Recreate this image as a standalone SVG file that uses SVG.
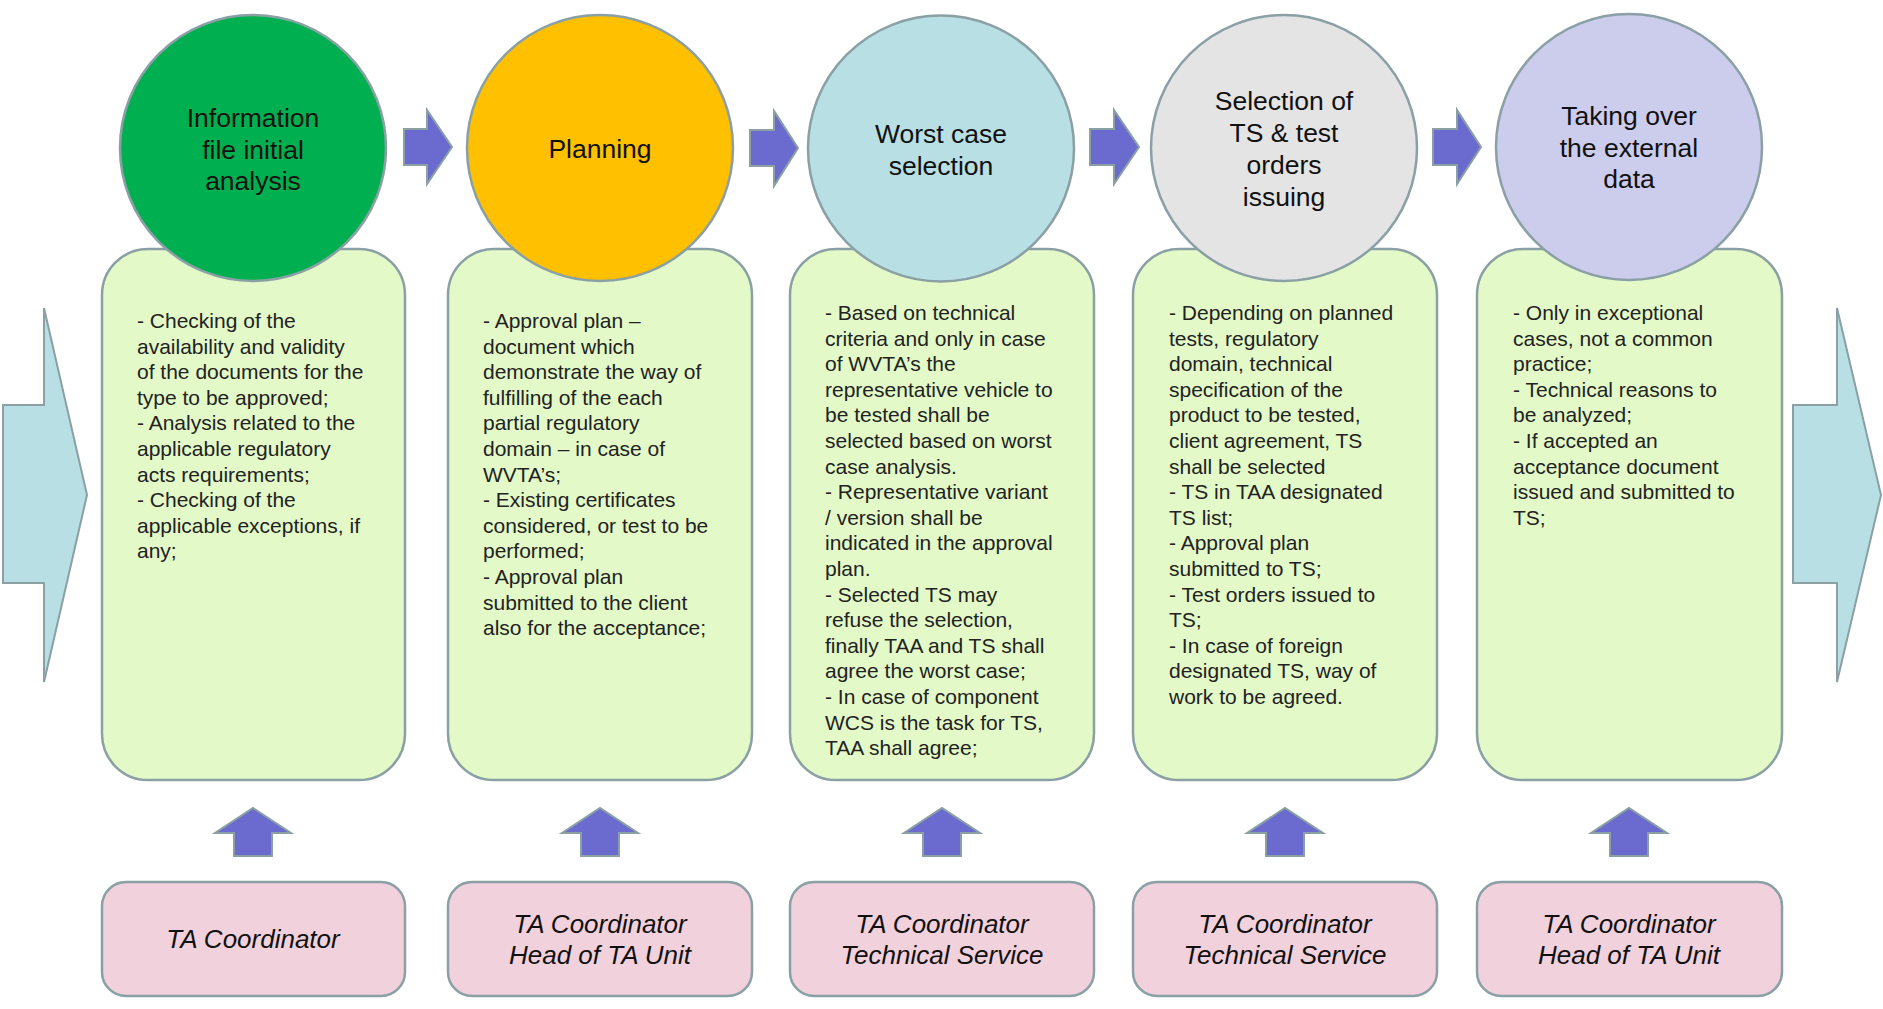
<svg xmlns="http://www.w3.org/2000/svg" width="1883" height="1009" viewBox="0 0 1883 1009">
<style>
.bg{fill:#ffffff}
.big{fill:#B8DFE3;stroke:#8AA0A4;stroke-width:2}
.flow{fill:#6B6BCF;stroke:#8AA0A4;stroke-width:2}
.box{fill:#E3F9C8;stroke:#8AA0A4;stroke-width:2.5}
.role{fill:#F1D1DC;stroke:#8AA0A4;stroke-width:2.5}
.circ{stroke:#8AA0A4;stroke-width:2.5}
.ct{font-family:"Liberation Sans",Arial,sans-serif;font-size:26.5px;fill:#111;text-anchor:middle}
.bt{font-family:"Liberation Sans",Arial,sans-serif;font-size:21px;fill:#222}
.rt{font-family:"Liberation Sans",Arial,sans-serif;font-size:26px;font-style:italic;fill:#111;text-anchor:middle}
</style>
<rect class="bg" x="0" y="0" width="1883" height="1009"/>
<g id="connectors">
<path class="big" d="M3,405 H44 V308 L87,495 L44,682 V583 H3 Z"/>
<path class="big" d="M1793,405 H1837 V308 L1881,495 L1837,682 V583 H1793 Z"/>
<path class="flow" d="M404,129 H427 V110 L452,147 L427,184 V165 H404 Z"/>
<path class="flow" d="M750,130 H774 V111 L798,148 L774,186 V166 H750 Z"/>
<path class="flow" d="M1090,129 H1114 V110 L1139,147 L1114,184 V165 H1090 Z"/>
<path class="flow" d="M1433,129 H1457 V110 L1481,147 L1457,184 V165 H1433 Z"/>
<path class="flow" d="M234,856 V833 H215 L253,808 L291,833 H272 V856 Z"/>
<path class="flow" d="M581,856 V833 H562 L600,808 L638,833 H619 V856 Z"/>
<path class="flow" d="M923,856 V833 H904 L942,808 L980,833 H961 V856 Z"/>
<path class="flow" d="M1266,856 V833 H1247 L1285,808 L1323,833 H1304 V856 Z"/>
<path class="flow" d="M1610,856 V833 H1591 L1629,808 L1667,833 H1648 V856 Z"/>
</g>
<g id="step1">
<rect class="box" x="102" y="249" width="303" height="531" rx="46" ry="46"/>
<circle class="circ" cx="253" cy="148" r="133" fill="#00B050"/>
<text class="ct" x="253" y="127">Information<tspan x="253" dy="31.5">file initial</tspan><tspan x="253" dy="31.5">analysis</tspan></text>
<text class="bt" x="137" y="328"><tspan x="137">- Checking of the</tspan><tspan x="137" dy="25.6">availability  and validity</tspan><tspan x="137" dy="25.6">of the documents  for the</tspan><tspan x="137" dy="25.6">type to be approved;</tspan><tspan x="137" dy="25.6">- Analysis related to the</tspan><tspan x="137" dy="25.6">applicable regulatory</tspan><tspan x="137" dy="25.6">acts requirements;</tspan><tspan x="137" dy="25.6">- Checking of the</tspan><tspan x="137" dy="25.6">applicable exceptions, if</tspan><tspan x="137" dy="25.6">any;</tspan></text>
</g>
<g id="step2">
<rect class="box" x="448" y="249" width="304" height="531" rx="46" ry="46"/>
<circle class="circ" cx="600" cy="148" r="133" fill="#FFC000"/>
<text class="ct" x="600" y="158">Planning</text>
<text class="bt" x="483" y="328"><tspan x="483">- Approval plan –</tspan><tspan x="483" dy="25.6">document which</tspan><tspan x="483" dy="25.6">demonstrate the way of</tspan><tspan x="483" dy="25.6">fulfilling of the each</tspan><tspan x="483" dy="25.6">partial regulatory</tspan><tspan x="483" dy="25.6">domain – in case of</tspan><tspan x="483" dy="25.6">WVTA’s;</tspan><tspan x="483" dy="25.6">- Existing certificates</tspan><tspan x="483" dy="25.6">considered, or test to be</tspan><tspan x="483" dy="25.6">performed;</tspan><tspan x="483" dy="25.6">- Approval plan</tspan><tspan x="483" dy="25.6">submitted to the client</tspan><tspan x="483" dy="25.6">also for the acceptance;</tspan></text>
</g>
<g id="step3">
<rect class="box" x="790" y="249" width="304" height="531" rx="46" ry="46"/>
<circle class="circ" cx="941" cy="148.5" r="133" fill="#B8DFE3"/>
<text class="ct" x="941" y="143">Worst case<tspan x="941" dy="32">selection</tspan></text>
<text class="bt" x="825" y="320"><tspan x="825">- Based on technical</tspan><tspan x="825" dy="25.6">criteria and only in case</tspan><tspan x="825" dy="25.6">of WVTA’s the</tspan><tspan x="825" dy="25.6">representative vehicle to</tspan><tspan x="825" dy="25.6">be tested shall be</tspan><tspan x="825" dy="25.6">selected based on worst</tspan><tspan x="825" dy="25.6">case analysis.</tspan><tspan x="825" dy="25.6">- Representative variant</tspan><tspan x="825" dy="25.6">/ version shall be</tspan><tspan x="825" dy="25.6">indicated in the approval</tspan><tspan x="825" dy="25.6">plan.</tspan><tspan x="825" dy="25.6">- Selected TS may</tspan><tspan x="825" dy="25.6">refuse the selection,</tspan><tspan x="825" dy="25.6">finally TAA and TS shall</tspan><tspan x="825" dy="25.6">agree the worst case;</tspan><tspan x="825" dy="25.6">- In case of component</tspan><tspan x="825" dy="25.6">WCS is the task for TS,</tspan><tspan x="825" dy="25.6">TAA shall agree;</tspan></text>
</g>
<g id="step4">
<rect class="box" x="1133" y="249" width="304" height="531" rx="46" ry="46"/>
<circle class="circ" cx="1284" cy="148" r="133" fill="#E4E4E4"/>
<text class="ct" x="1284" y="110">Selection of<tspan x="1284" dy="32">TS &amp; test</tspan><tspan x="1284" dy="32">orders</tspan><tspan x="1284" dy="32">issuing</tspan></text>
<text class="bt" x="1169" y="320"><tspan x="1169">- Depending on planned</tspan><tspan x="1169" dy="25.6">tests, regulatory</tspan><tspan x="1169" dy="25.6">domain, technical</tspan><tspan x="1169" dy="25.6">specification of the</tspan><tspan x="1169" dy="25.6">product to be tested,</tspan><tspan x="1169" dy="25.6">client agreement, TS</tspan><tspan x="1169" dy="25.6">shall be selected</tspan><tspan x="1169" dy="25.6">- TS in TAA designated</tspan><tspan x="1169" dy="25.6">TS list;</tspan><tspan x="1169" dy="25.6">- Approval plan</tspan><tspan x="1169" dy="25.6">submitted to TS;</tspan><tspan x="1169" dy="25.6">- Test orders issued to</tspan><tspan x="1169" dy="25.6">TS;</tspan><tspan x="1169" dy="25.6">- In case of foreign</tspan><tspan x="1169" dy="25.6">designated TS, way of</tspan><tspan x="1169" dy="25.6">work to be agreed.</tspan></text>
</g>
<g id="step5">
<rect class="box" x="1477" y="249" width="305" height="531" rx="46" ry="46"/>
<circle class="circ" cx="1629" cy="147" r="133" fill="#CCCCEC"/>
<text class="ct" x="1629" y="125">Taking over<tspan x="1629" dy="31.5">the external</tspan><tspan x="1629" dy="31.5">data</tspan></text>
<text class="bt" x="1513" y="320"><tspan x="1513">- Only in exceptional</tspan><tspan x="1513" dy="25.6">cases, not a common</tspan><tspan x="1513" dy="25.6">practice;</tspan><tspan x="1513" dy="25.6">- Technical reasons to</tspan><tspan x="1513" dy="25.6">be analyzed;</tspan><tspan x="1513" dy="25.6">- If accepted an</tspan><tspan x="1513" dy="25.6">acceptance document</tspan><tspan x="1513" dy="25.6">issued and submitted to</tspan><tspan x="1513" dy="25.6">TS;</tspan></text>
</g>
<g id="role1">
<rect class="role" x="102" y="882" width="303" height="114" rx="24" ry="24"/>
<text class="rt" x="253" y="948">TA Coordinator</text>
</g>
<g id="role2">
<rect class="role" x="448" y="882" width="304" height="114" rx="24" ry="24"/>
<text class="rt" x="600" y="933">TA Coordinator<tspan x="600" dy="31">Head of TA Unit</tspan></text>
</g>
<g id="role3">
<rect class="role" x="790" y="882" width="304" height="114" rx="24" ry="24"/>
<text class="rt" x="942" y="933">TA Coordinator<tspan x="942" dy="31">Technical Service</tspan></text>
</g>
<g id="role4">
<rect class="role" x="1133" y="882" width="304" height="114" rx="24" ry="24"/>
<text class="rt" x="1285" y="933">TA Coordinator<tspan x="1285" dy="31">Technical Service</tspan></text>
</g>
<g id="role5">
<rect class="role" x="1477" y="882" width="305" height="114" rx="24" ry="24"/>
<text class="rt" x="1629" y="933">TA Coordinator<tspan x="1629" dy="31">Head of TA Unit</tspan></text>
</g>
</svg>
